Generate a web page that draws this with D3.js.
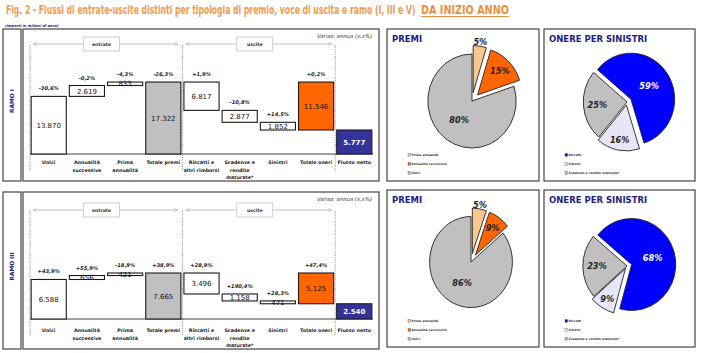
<!DOCTYPE html>
<html>
<head>
<meta charset="utf-8">
<script src="https://cdn.jsdelivr.net/npm/d3@7"></script>
<style>
  html, body { margin: 0; padding: 0; background: #fff; }
  svg { display: block; font-family: "DejaVu Sans", Verdana, sans-serif; }
</style>
</head>
<body>
<svg id="chart" width="703" height="353"></svg>
<script>
// ---- data ----
const categories = ["Unici", "Annualità successive", "Prima annualità", "Totale premi",
  "Riscatti e altri rimborsi", "Scadenze e rendite maturate*", "Sinistri", "Totale oneri", "Flusso netto"];
const categoryLines = [["Unici"], ["Annualità", "successive"], ["Prima", "annualità"], ["Totale premi"],
  ["Riscatti e", "altri rimborsi"], ["Scadenze e", "rendite", "maturate*"], ["Sinistri"], ["Totale oneri"], ["Flusso netto"]];
const stepKind = ["in", "in", "in", "totIn", "out", "out", "out", "totOut", "net"];

const ramoNames = ["RAMO I", "RAMO III"];
const ramoIValues = [13870, 2619, 833, 17322, 6817, 2877, 1852, 11546, 5777];
const ramoIVariaz = ["-30,6%", "-0,2%", "-4,3%", "-26,3%", "+1,9%", "-10,8%", "+14,5%", "+0,2%", ""];
const ramoIIIValues = [6588, 656, 421, 7665, 3496, 1158, 471, 5125, 2540];
const ramoIIIVariaz = ["+43,9%", "+55,9%", "-18,9%", "+38,9%", "+28,9%", "+190,4%", "+28,3%", "+47,4%", ""];
const yMaxes = [26000, 18000];

const premiLabels = ["Prima annualità", "Annualità successive", "Unici"];
const oneriLabels = ["Riscatti", "Sinistri", "Scadenze e rendite maturate*"];

// pie shares come from the bar values
const premiIdx = [2, 1, 0];   // Prima annualità, Annualità successive, Unici
const oneriIdx = [4, 6, 5];   // Riscatti, Sinistri, Scadenze

const titleText = "Fig. 2 - Flussi di entrate-uscite distinti per tipologia di premio, voce di uscita e ramo (I, III e V)";
const titleTail = "DA INIZIO ANNO";

// ---- setup ----
const svg = d3.select("#chart");
const itLocale = d3.formatLocale({decimal: ",", thousands: ".", grouping: [3], currency: ["", "€"]});
const fmt = itLocale.format(",d");
const navy = "#1c1c80";

const defs = svg.append("defs");
const pPrima = defs.append("pattern").attr("id", "patPrima").attr("patternUnits", "userSpaceOnUse")
  .attr("width", 3).attr("height", 3);
pPrima.append("rect").attr("width", 3).attr("height", 3).attr("fill", "#ffdcae");
pPrima.append("path").attr("d", "M0,0L3,3M3,0L0,3").attr("stroke", "#f3a257").attr("stroke-width", 0.6);
const pScad = defs.append("pattern").attr("id", "patSin").attr("patternUnits", "userSpaceOnUse")
  .attr("width", 3).attr("height", 3);
pScad.append("rect").attr("width", 3).attr("height", 3).attr("fill", "#eeeefc");
pScad.append("path").attr("d", "M0,0L3,3M3,0L0,3").attr("stroke", "#d4d4ee").attr("stroke-width", 0.5);
defs.append("marker").attr("id", "arr").attr("viewBox", "0 0 8 8").attr("refX", 7).attr("refY", 4)
  .attr("markerWidth", 6).attr("markerHeight", 6).attr("orient", "auto-start-reverse")
  .append("path").attr("d", "M0,0.5L7,4L0,7.5").attr("fill", "none").attr("stroke", "#a8a8a8").attr("stroke-width", 1);

const premiColors = ["url(#patPrima)", "#ff6600", "#c0c0c0"];
const oneriColors = ["#0000ff", "url(#patSin)", "#c0c0c0"];

// title: same size for both parts, squeezed horizontally to its width
function fitText(str, x0, width, color) {
  const t = svg.append("text").attr("x", 0).attr("y", 0)
    .attr("font-family", "'DejaVu Sans', sans-serif")
    .attr("font-weight", "bold").attr("font-size", 12).attr("fill", color).text(str);
  const w = t.node().getComputedTextLength();
  t.attr("transform", `translate(${x0},14) scale(${width / w},1)`);
}
fitText(titleText, 6, 410, "#f29a50");
fitText(titleTail, 421, 88, "#ee8f3c");
svg.append("line").attr("x1", 421).attr("x2", 509).attr("y1", 16.5).attr("y2", 16.5)
  .attr("stroke", "#ee8f3c").attr("stroke-width", 1);
svg.append("text").attr("x", 5).attr("y", 27).attr("font-size", 3.6).attr("font-style", "italic")
  .attr("font-weight", "bold").attr("fill", navy).text("(importi in milioni di euro)");

// ---- layout ----
const sections = [
  {top: 29, bottom: 181, base: 154, arrowY: 44, labelY: 164},
  {top: 192, bottom: 349, base: 319, arrowY: 210, labelY: 332}
];
const pieBoxes = [
  {top: 29, bottom: 181},
  {top: 190, bottom: 347}
];
const premiGeo = [{cx: 472, cy: 101, r: 47, sx: 0.94}, {cx: 471, cy: 262, r: 45.5, sx: 0.91}];
const oneriGeo = [{cx: 627, cy: 102, r: 46, sx: 0.95}, {cx: 627, cy: 266, r: 46, sx: 0.96}];

const x = d3.scaleBand().domain(categories).range([30, 373]).paddingInner(0.08).paddingOuter(0.03);
const bw = x.bandwidth();

function steps(vals) {
  let run = 0, tot = 0;
  return vals.map((v, i) => {
    const k = stepKind[i];
    if (k === "in") { const r = [run, run + v]; run += v; return r; }
    if (k === "totIn") { tot = v; run = v; return [0, v]; }
    if (k === "out") { const r = [run - v, run]; run -= v; return r; }
    if (k === "totOut") return [tot - v, tot];
    return [0, v];
  });
}
const fillOf = {in: "#ffffff", out: "#ffffff", totIn: "#c0c0c0", totOut: "#ff6600", net: "#333399"};

const ramoData = [
  {name: ramoNames[0], values: ramoIValues, variaz: ramoIVariaz, yMax: yMaxes[0]},
  {name: ramoNames[1], values: ramoIIIValues, variaz: ramoIIIVariaz, yMax: yMaxes[1]}
];

ramoData.forEach((d, si) => {
  const s = sections[si];
  const g = svg.append("g");

  g.append("rect").attr("x", 3).attr("y", s.top).attr("width", 18).attr("height", s.bottom - s.top)
    .attr("fill", "#fff").attr("stroke", "#444").attr("stroke-width", 1.2);
  g.append("rect").attr("x", 23).attr("y", s.top).attr("width", 356).attr("height", s.bottom - s.top)
    .attr("fill", "#fff").attr("stroke", "#444").attr("stroke-width", 1.2);
  g.append("text").attr("transform", `translate(14,${(s.top + s.bottom) / 2 - 4}) rotate(-90)`)
    .attr("text-anchor", "middle").attr("font-size", 5.8).attr("font-weight", "bold").attr("fill", navy)
    .text(d.name);

  const y = d3.scaleLinear().domain([0, d.yMax]).range([s.base, s.base - 108]);

  // dotted separators
  const seps = [x.range()[0],
    (x(categories[3]) + bw + x(categories[4])) / 2,
    (x(categories[7]) + bw + x(categories[8])) / 2];
  g.selectAll("line.sep").data(seps).join("line").attr("class", "sep")
    .attr("x1", v => v).attr("x2", v => v).attr("y1", s.arrowY + 1).attr("y2", s.base + 17)
    .attr("stroke", "#555").attr("stroke-width", 0.7).attr("stroke-dasharray", "1,1.2");

  g.append("line").attr("x1", x.range()[0]).attr("x2", x.range()[1]).attr("y1", s.base).attr("y2", s.base)
    .attr("stroke", "#444").attr("stroke-width", 1);

  // arrows with boxed captions
  const arrows = [
    {x0: x(categories[0]) + 2, x1: x(categories[3]) + bw - 3, label: "entrate"},
    {x0: x(categories[4]) + 2, x1: x(categories[7]) + bw - 2, label: "uscite"}
  ];
  arrows.forEach(a => {
    g.append("line").attr("x1", a.x0).attr("x2", a.x1).attr("y1", s.arrowY).attr("y2", s.arrowY)
      .attr("stroke", "#a8a8a8").attr("stroke-width", 0.7)
      .attr("marker-start", "url(#arr)").attr("marker-end", "url(#arr)");
    const cx = (a.x0 + a.x1) / 2 - 4;
    g.append("rect").attr("x", cx - 18).attr("y", s.arrowY - 7).attr("width", 36).attr("height", 14)
      .attr("fill", "#fff").attr("stroke", "#c4c4c4").attr("stroke-width", 0.8);
    g.append("text").attr("x", cx).attr("y", s.arrowY + 1.6).attr("text-anchor", "middle")
      .attr("font-size", 4.6).attr("font-weight", "bold").attr("fill", "#333").text(a.label);
  });

  g.append("text").attr("x", 372).attr("y", s.top + 9).attr("text-anchor", "end")
    .attr("font-size", 5.3).attr("font-style", "italic").attr("fill", "#333")
    .text("Variaz. annua  (x,x%)");

  const st = steps(d.values);
  const bars = categories.map((c, i) => ({c, v: d.values[i], lo: st[i][0], hi: st[i][1], k: stepKind[i], p: d.variaz[i]}));

  g.selectAll("rect.bar").data(bars).join("rect").attr("class", "bar")
    .attr("x", b => x(b.c)).attr("width", bw)
    .attr("y", b => y(b.hi)).attr("height", b => y(b.lo) - y(b.hi))
    .attr("fill", b => fillOf[b.k]).attr("stroke", "#1a1a1a").attr("stroke-width", 1.1);

  g.selectAll("text.val").data(bars).join("text").attr("class", "val")
    .attr("x", b => x(b.c) + bw / 2).attr("y", b => (y(b.hi) + y(b.lo)) / 2 + 2.6)
    .attr("text-anchor", "middle").attr("font-size", 7)
    .attr("font-weight", b => b.k === "net" ? "bold" : "normal")
    .attr("fill", b => b.k === "net" ? "#fff" : "#111")
    .text(b => fmt(b.v));

  g.selectAll("text.pct").data(bars.filter(b => b.p)).join("text").attr("class", "pct")
    .attr("x", b => x(b.c) + bw / 2).attr("y", b => y(b.hi) - 6)
    .attr("text-anchor", "middle").attr("font-size", 5.2).attr("font-style", "italic")
    .attr("font-weight", "bold").attr("fill", "#222").text(b => b.p);

  categories.forEach((c, i) => {
    const t = g.append("text").attr("x", x(c) + bw / 2).attr("y", s.labelY).attr("text-anchor", "middle")
      .attr("font-size", 4.8).attr("font-weight", "bold").attr("fill", "#222");
    categoryLines[i].forEach((ln, j) => {
      t.append("tspan").attr("x", x(c) + bw / 2).attr("dy", j === 0 ? 0 : 7.6).text(ln);
    });
  });
});

// ---- pies ----
function drawPie(geo, box, bx, bw2, title, labels, values, colors, startDeg, explode, labelFrac, labelFill) {
  const g = svg.append("g");
  g.append("rect").attr("x", bx).attr("y", box.top).attr("width", bw2).attr("height", box.bottom - box.top)
    .attr("fill", "#fff").attr("stroke", "#444").attr("stroke-width", 1.2);
  g.append("text").attr("x", bx + 5).attr("y", box.top + 12.5).attr("font-size", 8.5)
    .attr("font-weight", "bold").attr("fill", navy).text(title);

  const total = d3.sum(values);
  const a0 = startDeg * Math.PI / 180;
  const arcs = d3.pie().sort(null).startAngle(a0).endAngle(a0 + 2 * Math.PI)(values);
  const arc = d3.arc().innerRadius(0).outerRadius(geo.r);
  const pg = g.append("g").attr("transform", `translate(${geo.cx},${geo.cy}) scale(${geo.sx},1)`);
  arcs.forEach((a, i) => {
    const mid = (a.startAngle + a.endAngle) / 2;
    const dx = Math.sin(mid) * explode[i], dy = -Math.cos(mid) * explode[i];
    pg.append("path").attr("d", arc(a)).attr("transform", `translate(${dx},${dy})`)
      .attr("fill", colors[i]).attr("stroke", "#222").attr("stroke-width", 0.9)
      .attr("vector-effect", "non-scaling-stroke");
  });
  arcs.forEach((a, i) => {
    const mid = (a.startAngle + a.endAngle) / 2;
    const rr = explode[i] + labelFrac[i] * geo.r;
    g.append("text").attr("x", geo.cx + geo.sx * Math.sin(mid) * rr).attr("y", geo.cy - Math.cos(mid) * rr + 3)
      .attr("text-anchor", "middle").attr("font-size", 8.2).attr("font-weight", "bold").attr("font-style", "italic")
      .attr("fill", labelFill[i]).text(Math.round(a.value / total * 100) + "%");
  });

  const ly = box.bottom - 25;
  labels.forEach((l, i) => {
    g.append("rect").attr("x", bx + 21).attr("y", ly + i * 9 - 2.4).attr("width", 2.6).attr("height", 2.6)
      .attr("fill", colors[i]).attr("stroke", "#333").attr("stroke-width", 0.3);
    g.append("text").attr("x", bx + 24.5).attr("y", ly + i * 9).attr("font-size", 3)
      .attr("font-weight", "bold").attr("fill", "#333").text(l);
  });
}

ramoData.forEach((d, si) => {
  drawPie(premiGeo[si], pieBoxes[si], 387, 152, "PREMI", premiLabels,
    premiIdx.map(i => d.values[i]), premiColors, 0, [8.5, 8.5, 0], [1.08, 0.72, 0.5], ["#222", "#222", "#222"]);
  drawPie(oneriGeo[si], pieBoxes[si], 544, 151, "ONERE PER SINISTRI", oneriLabels,
    oneriIdx.map(i => d.values[i]), oneriColors, -50, [5, 3, 0], [0.5, 0.78, 0.68], ["#fff", "#222", "#222"]);
});
</script>
</body>
</html>
